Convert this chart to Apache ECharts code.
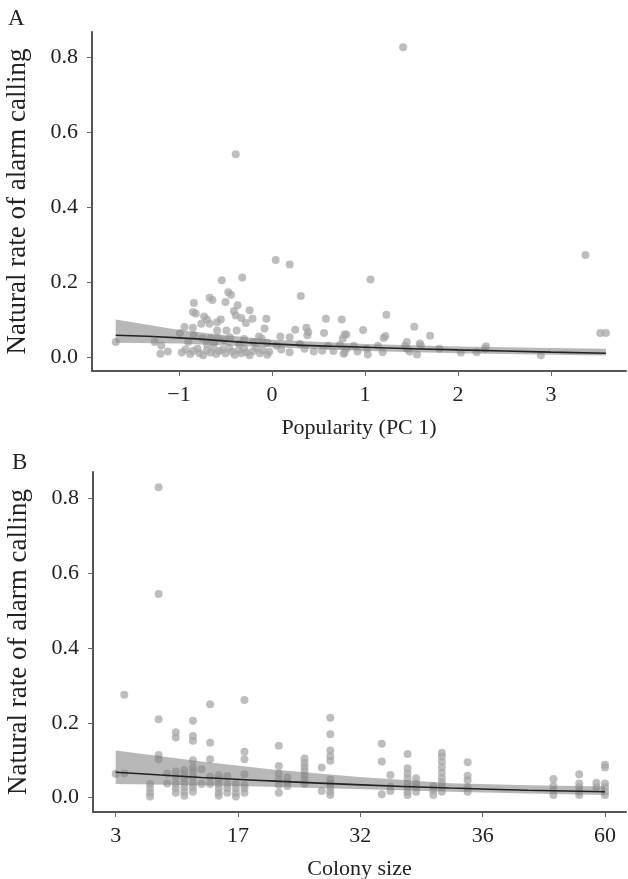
<!DOCTYPE html>
<html>
<head>
<meta charset="utf-8">
<script src="https://cdn.jsdelivr.net/npm/echarts@6/dist/echarts.min.js"></script>
<style>html,body{margin:0;padding:0;background:#fff;}#c{width:628px;height:879px;}</style>
</head>
<body>
<div id="c"></div>
<script>
// ---------- Panel A: popularity (PC 1) vs natural alarm rate ----------
const popularityPoints = [
  [1.41,0.826],[-0.39,0.541],[3.37,0.272],[0.04,0.259],[0.19,0.247],[-0.32,0.212],[-0.54,0.205],[1.06,0.207],
  [-0.47,0.173],[-0.44,0.166],[0.31,0.163],[-0.67,0.158],[-0.64,0.152],[-0.84,0.144],[-0.50,0.147],[-0.37,0.138],
  [-0.85,0.12],[-0.82,0.116],[-0.41,0.123],[-0.39,0.111],[-0.24,0.125],[1.23,0.113],[-0.73,0.108],[-0.70,0.10],
  [-0.55,0.10],[-0.33,0.104],[-0.21,0.102],[-0.06,0.102],[0.58,0.102],[0.75,0.10],[-0.28,0.091],[-0.76,0.089],
  [-0.67,0.089],[-0.59,0.093],[-0.94,0.08],[-0.85,0.078],[-0.08,0.076],[0.25,0.073],[0.37,0.078],[0.39,0.067],
  [0.38,0.058],[1.53,0.081],[0.98,0.072],[0.56,0.064],[-0.99,0.064],[-0.59,0.071],[-0.49,0.071],[-0.38,0.071],
  [1.70,0.057],[1.20,0.051],[1.22,0.056],[0.78,0.06],[0.76,0.049],[3.53,0.064],[3.59,0.064],[0.09,0.055],
  [0.19,0.053],[0.80,0.06],[-0.11,0.049],[-1.68,0.04],[-1.26,0.04],[-1.19,0.031],[-1.20,0.009],[-1.12,0.015],
  [-0.84,0.058],[-0.75,0.05],[-0.66,0.05],[-0.58,0.05],[-0.51,0.045],[-0.45,0.052],[-0.30,0.048],[-0.20,0.04],
  [-0.14,0.055],[-0.90,0.04],[-0.70,0.035],[-0.62,0.038],[-0.35,0.035],[-0.05,0.038],[0.05,0.03],[0.30,0.035],
  [0.60,0.03],[0.88,0.03],[0.73,0.032],[1.14,0.03],[1.45,0.04],[1.43,0.03],[1.60,0.031],[1.59,0.036],[2.30,0.029],
  [-0.97,0.012],[-0.93,0.02],[-0.88,0.008],[-0.85,0.016],[-0.80,0.022],[-0.78,0.01],[-0.74,0.005],[-0.70,0.018],
  [-0.66,0.012],[-0.63,0.025],[-0.60,0.008],[-0.57,0.016],[-0.53,0.02],[-0.50,0.01],[-0.46,0.024],[-0.43,0.014],
  [-0.40,0.006],[-0.36,0.018],[-0.33,0.01],[-0.30,0.022],[-0.27,0.012],[-0.24,0.005],[-0.20,0.016],[-0.17,0.024],
  [-0.13,0.01],[-0.10,0.018],[-0.05,0.006],[-0.03,0.014],[0.10,0.02],[0.19,0.013],[0.35,0.022],[0.45,0.015],
  [0.54,0.017],[0.66,0.016],[0.78,0.012],[0.77,0.009],[0.80,0.022],[0.92,0.015],[1.02,0.022],[1.03,0.007],
  [1.19,0.013],[1.45,0.022],[1.48,0.015],[1.56,0.007],[1.80,0.022],[2.03,0.012],[2.20,0.013],[2.29,0.022],[2.89,0.005]
];
const fitLineA = [[-1.68,0.058],[-1,0.051],[0,0.035],[1,0.026],[2,0.019],[3,0.013],[3.59,0.010]];
const ribbonXA = [-1.68,-1,-0.5,0,1,2,3,3.59];
const ribbonUpperA = [0.100,0.072,0.058,0.046,0.035,0.028,0.024,0.022];
const ribbonLowerA = [0.038,0.036,0.031,0.026,0.016,0.010,0.006,0.004];
const xTicksA = [-1,0,1,2,3];
const yTicks = [0,0.2,0.4,0.6,0.8];

// ---------- Panel B: colony size (rank order) vs natural alarm rate ----------
const colonyColumns = [0,1,4,5,6,7,8,9,10,11,12,13,14,15,19,20,22,24,25,31,32,34,35,37,38,41,51,54,56,57];
const colonyRates = [
  [0.064],
  [0.275,0.065],
  [0.037,0.025,0.013,0.003],
  [0.83,0.545,0.21,0.114,0.103],
  [0.065,0.038],
  [0.175,0.161,0.07,0.056,0.037,0.025,0.013],
  [0.074,0.063,0.052,0.038,0.028,0.016,0.005],
  [0.206,0.165,0.152,0.10,0.081,0.07,0.056,0.038,0.028,0.016],
  [0.076,0.037],
  [0.25,0.147,0.103,0.056,0.037],
  [0.06,0.049,0.037,0.025,0.013,0.005],
  [0.058,0.037,0.025,0.013],
  [0.037,0.025,0.013,0.003],
  [0.261,0.123,0.103,0.063,0.034,0.025,0.013],
  [0.139,0.085,0.064,0.049,0.034,0.013],
  [0.055,0.042,0.031],
  [0.105,0.093,0.083,0.072,0.061,0.049,0.037],
  [0.081,0.018],
  [0.214,0.170,0.126,0.111,0.099,0.049,0.038,0.028,0.016,0.007],
  [0.144,0.097,0.009],
  [0.061,0.029,0.018],
  [0.117,0.079,0.065,0.052,0.038,0.028,0.016,0.007],
  [0.052,0.038,0.028,0.016],
  [0.031,0.019,0.007],
  [0.12,0.11,0.096,0.081,0.067,0.052,0.04,0.029,0.016],
  [0.095,0.059,0.047,0.027,0.016],
  [0.05,0.031,0.019,0.007],
  [0.063,0.038,0.028,0.016,0.007],
  [0.04,0.028],
  [0.088,0.081,0.038,0.028,0.016,0.007]
];
const fitLineB = [[0,0.068],[10,0.054],[18,0.045],[28,0.035],[39,0.026],[48,0.020],[57,0.016]];
const ribbonXB = [0,10,18,28,39,48,57];
const ribbonUpperB = [0.126,0.097,0.076,0.056,0.039,0.033,0.030];
const ribbonLowerB = [0.037,0.033,0.029,0.023,0.016,0.011,0.007];
const xTickPosB = [0,14.25,28.5,42.75,57];
const xTickLabelsB = ['3','17','32','36','60'];

// ---------- build ----------
const pointsB = [];
colonyColumns.forEach((c, i) => colonyRates[i].forEach(v => pointsB.push([c, v])));

const FONT = 'Liberation Serif';
const TXT = '#222';
const PT = 'rgba(165,165,165,0.9)';

function ribbonSeries(xs, up, lo, xi, yi) {
  return {
    type: 'custom', xAxisIndex: xi, yAxisIndex: yi, silent: true, z: 3,
    data: [[xs[0], up[0]]],
    renderItem: function (params, api) {
      const pts = [];
      for (let k = 0; k < xs.length; k++) pts.push(api.coord([xs[k], up[k]]));
      for (let k = xs.length - 1; k >= 0; k--) pts.push(api.coord([xs[k], lo[k]]));
      return { type: 'polygon', shape: { points: pts }, style: { fill: 'rgba(125,125,125,0.55)' } };
    }
  };
}

function xAxisBase(gi) {
  return {
    type: 'value', gridIndex: gi, splitLine: { show: false },
    axisLine: { show: true, onZero: false, lineStyle: { color: '#555', width: 2 } },
    axisTick: { show: true, length: 5, lineStyle: { color: '#666', width: 1 } },
    axisLabel: { fontFamily: FONT, fontSize: 22, color: TXT, margin: 13 },
    nameLocation: 'middle', nameGap: 46,
    nameTextStyle: { fontFamily: FONT, fontSize: 22, color: TXT }
  };
}
function yAxisBase(gi, min, max) {
  return {
    type: 'value', gridIndex: gi, min: min, max: max, splitLine: { show: false },
    axisLine: { show: true, onZero: false, lineStyle: { color: '#555', width: 2 } },
    axisTick: { show: true, length: 5, customValues: yTicks, lineStyle: { color: '#666', width: 1 } },
    axisLabel: { fontFamily: FONT, fontSize: 22, color: TXT, margin: 14, customValues: yTicks,
                 formatter: v => v.toFixed(1) },
    name: 'Natural rate of alarm calling', nameLocation: 'middle', nameRotate: 90, nameGap: 61,
    nameTextStyle: { fontFamily: FONT, fontSize: 27, color: TXT }
  };
}

const xA = xAxisBase(0);
Object.assign(xA, { min: -1.935, max: 3.806, name: 'Popularity (PC 1)' });
xA.axisTick.customValues = xTicksA;
xA.axisLabel.customValues = xTicksA;
xA.axisLabel.formatter = v => (v < 0 ? '\u2212' + Math.abs(v) : String(v));

const xB = xAxisBase(1);
Object.assign(xB, { min: -2.644, max: 59.45, name: 'Colony size' });
xB.axisTick.customValues = xTickPosB;
xB.axisLabel.customValues = xTickPosB;
xB.axisLabel.formatter = v => { const i = xTickPosB.indexOf(v); return i >= 0 ? xTickLabelsB[i] : ''; };

const option = {
  backgroundColor: '#fff',
  animation: false,
  title: [
    { text: 'A', left: 8, top: 7, padding: 0, textStyle: { fontFamily: FONT, fontSize: 23, fontWeight: 'normal', color: TXT } },
    { text: 'B', left: 12, top: 451, padding: 0, textStyle: { fontFamily: FONT, fontSize: 23, fontWeight: 'normal', color: TXT } }
  ],
  grid: [
    { left: 92, top: 32, width: 534, height: 339, outerBoundsMode: 'none', containLabel: false },
    { left: 93, top: 472, width: 533, height: 340, outerBoundsMode: 'none', containLabel: false }
  ],
  xAxis: [xA, xB],
  yAxis: [yAxisBase(0, -0.0373, 0.8667), yAxisBase(1, -0.0382, 0.8709)],
  series: [
    { type: 'scatter', xAxisIndex: 0, yAxisIndex: 0, data: popularityPoints, symbolSize: 8,
      itemStyle: { color: PT }, z: 2, silent: true },
    ribbonSeries(ribbonXA, ribbonUpperA, ribbonLowerA, 0, 0),
    { type: 'line', xAxisIndex: 0, yAxisIndex: 0, data: fitLineA, smooth: true, symbol: 'none',
      lineStyle: { color: '#222', width: 1.6 }, z: 4, silent: true },
    { type: 'scatter', xAxisIndex: 1, yAxisIndex: 1, data: pointsB, symbolSize: 8,
      itemStyle: { color: PT }, z: 2, silent: true },
    ribbonSeries(ribbonXB, ribbonUpperB, ribbonLowerB, 1, 1),
    { type: 'line', xAxisIndex: 1, yAxisIndex: 1, data: fitLineB, smooth: true, symbol: 'none',
      lineStyle: { color: '#222', width: 1.6 }, z: 4, silent: true }
  ]
};
echarts.init(document.getElementById('c'), null, { renderer: 'canvas' }).setOption(option);
</script>
</body>
</html>
